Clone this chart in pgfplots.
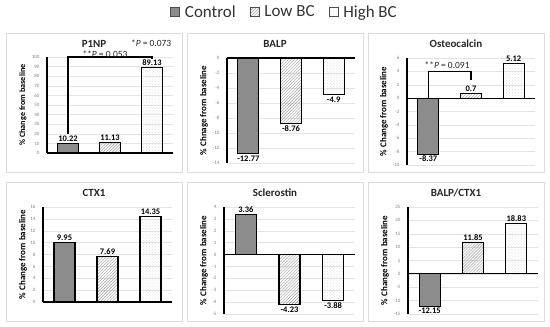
\documentclass[border=0pt]{standalone}
\usepackage{pgfplots}
\pgfplotsset{compat=1.18}
\usepackage{fontspec}
\setmainfont{Carlito}
\usetikzlibrary{patterns}
\definecolor{ctrlgray}{HTML}{8C8C8C}
\definecolor{boxgray}{HTML}{DCDCDC}
\pgfplotsset{
  panel/.style={
    scale only axis, anchor=south west,
    xmin=-0.5, xmax=2.5, xtick=\empty,
    axis y line*=left, axis x line*=middle,
    axis line style={line width=1.1bp, black},
    hide obscured y ticks=false,
    ymajorgrids, grid style={gray!22, line width=0.5bp},
    major tick length=0pt,
    yticklabel style={font=\fontsize{5}{6}\selectfont, text=gray, xshift=-4bp},
    ylabel style={font=\bfseries\fontsize{9}{10}\selectfont, at={(axis description cs:0,0.5)}, anchor=center, yshift=23bp},
    /pgf/number format/assume math mode=true,
    ybar, bar width=21bp, bar shift=0pt,
    nodes near coords, point meta=explicit symbolic,
    every node near coord/.append style={font=\bfseries\fontsize{8.5}{9}\selectfont, text=black, inner sep=1.5bp},
    clip=false,
  },
  neg/.style={every node near coord/.append style={anchor=north}},
  ctrl/.style={fill=ctrlgray, draw=black, line width=1.1bp},
  lowbc/.style={pattern=north east lines, pattern color=gray!75, draw=black, line width=1.1bp},
  highbc/.style={pattern=crosshatch dots, pattern color=gray!25, draw=black, line width=1.1bp},
}
\begin{document}
\begin{tikzpicture}
\path[use as bounding box] (0bp,0bp) rectangle (550bp,-327bp);
% panel frames
\foreach \xa/\xb in {6/182,187/363,368/544}{
  \draw[boxgray, line width=0.7bp] (\xa bp,-33bp) rectangle (\xb bp,-172bp);
  \draw[boxgray, line width=0.7bp] (\xa bp,-182bp) rectangle (\xb bp,-321bp);
}
% titles
\begin{scope}[every node/.style={font=\bfseries\fontsize{11}{12}\selectfont, text=black!85}]
\node at (94bp,-43.5bp) {P1NP};
\node at (275bp,-44bp) {BALP};
\node at (456bp,-44bp) {Osteocalcin};
\node at (94bp,-193bp) {CTX1};
\node at (275bp,-193bp) {Sclerostin};
\node at (456bp,-193bp) {BALP/CTX1};
\end{scope}

% P1NP
\begin{axis}[panel, at={(47bp,-153bp)}, width=126bp, height=96bp,
  ymin=0, ymax=100, ytick={0,10,...,100},
  ylabel={\% Change from baseline},
  ylabel style={font=\bfseries\fontsize{8.2}{9}\selectfont, yshift=1bp},
  legend columns=3,
  legend style={at={(1.885,1.469)}, anchor=center, draw=none, fill=none,
    font=\fontsize{17}{18}\selectfont, text=black!80,
    /tikz/every odd column/.append style={column sep=3bp},
    /tikz/every even column/.append style={column sep=12bp}},
  legend image code/.code={\draw[#1, line width=0.7bp, draw=gray!60!black] (0bp,-4.5bp) rectangle (9bp,4.5bp);},
]
\addplot[ctrl] coordinates {(0,10.22) [10.22]};
\addplot[lowbc] coordinates {(1,11.13) [11.13]};
\addplot[highbc] coordinates {(2,89.13) [89.13]};
\legend{Control, Low BC, High BC}
\draw[black, line width=1.1bp] (axis cs:0,20) -- (axis cs:0,100) -- (axis cs:2,100) -- (axis cs:2,97.5);
\node[font=\fontsize{9.5}{11}\selectfont, text=black!85] at (axis cs:0.88,103) {**\textit{P} = 0.053};
\node[font=\fontsize{9.5}{11}\selectfont, text=black!85] at (axis cs:1.98,114.6) {*\textit{P} = 0.073};
\end{axis}

% BALP
\begin{axis}[panel, at={(227bp,-163bp)}, width=128bp, height=105bp,
  ymin=-14, ymax=0, ytick={-14,-12,...,0},
  ylabel={\% Chnage from baseline}]
\addplot[ctrl, neg] coordinates {(0,-12.77) [-12.77]};
\addplot[lowbc, neg] coordinates {(1,-8.76) [-8.76]};
\addplot[highbc, neg] coordinates {(2,-4.9) [-4.9]};
\end{axis}

% Osteocalcin
\begin{axis}[panel, at={(407bp,-165bp)}, width=128bp, height=107bp,
  ymin=-10, ymax=6, ytick={-10,-8,...,6},
  ylabel={\% Change from baseline}]
\addplot[ctrl, neg] coordinates {(0,-8.37) [-8.37]};
\addplot[lowbc] coordinates {(1,0.7) [0.7]};
\addplot[highbc] coordinates {(2,5.12) [5.12]};
\draw[black, line width=1.1bp] (axis cs:0,0) -- (axis cs:0,4) -- (axis cs:1,4) -- (axis cs:1,2.7);
\node[font=\fontsize{9.5}{11}\selectfont, text=black!85] at (axis cs:0.44,4.95) {**\textit{P} = 0.091};
\end{axis}

% CTX1
\begin{axis}[panel, at={(43bp,-302bp)}, width=129bp, height=95bp,
  ymin=0, ymax=16, ytick={0,2,...,16},
  ylabel={\% Change from baseline}, ylabel style={yshift=-3bp}]
\addplot[ctrl] coordinates {(0,9.95) [9.95]};
\addplot[lowbc] coordinates {(1,7.69) [7.69]};
\addplot[highbc] coordinates {(2,14.35) [14.35]};
\end{axis}

% Sclerostin
\begin{axis}[panel, at={(224bp,-314bp)}, width=131bp, height=107bp,
  ymin=-5, ymax=4, ytick={-5,-4,...,4},
  ylabel={\% Change from baseline}, ylabel style={yshift=-3bp}]
\addplot[ctrl] coordinates {(0,3.36) [3.36]};
\addplot[lowbc, neg] coordinates {(1,-4.23) [-4.23]};
\addplot[highbc, neg] coordinates {(2,-3.88) [-3.88]};
\end{axis}

% BALP/CTX1
\begin{axis}[panel, at={(408bp,-314bp)}, width=130bp, height=107bp,
  ymin=-15, ymax=25, ytick={-15,-10,...,25},
  ylabel={\% Change from baseline}]
\addplot[ctrl, neg] coordinates {(0,-12.15) [-12.15]};
\addplot[lowbc] coordinates {(1,11.85) [11.85]};
\addplot[highbc] coordinates {(2,18.83) [18.83]};
\end{axis}
\end{tikzpicture}
\end{document}
